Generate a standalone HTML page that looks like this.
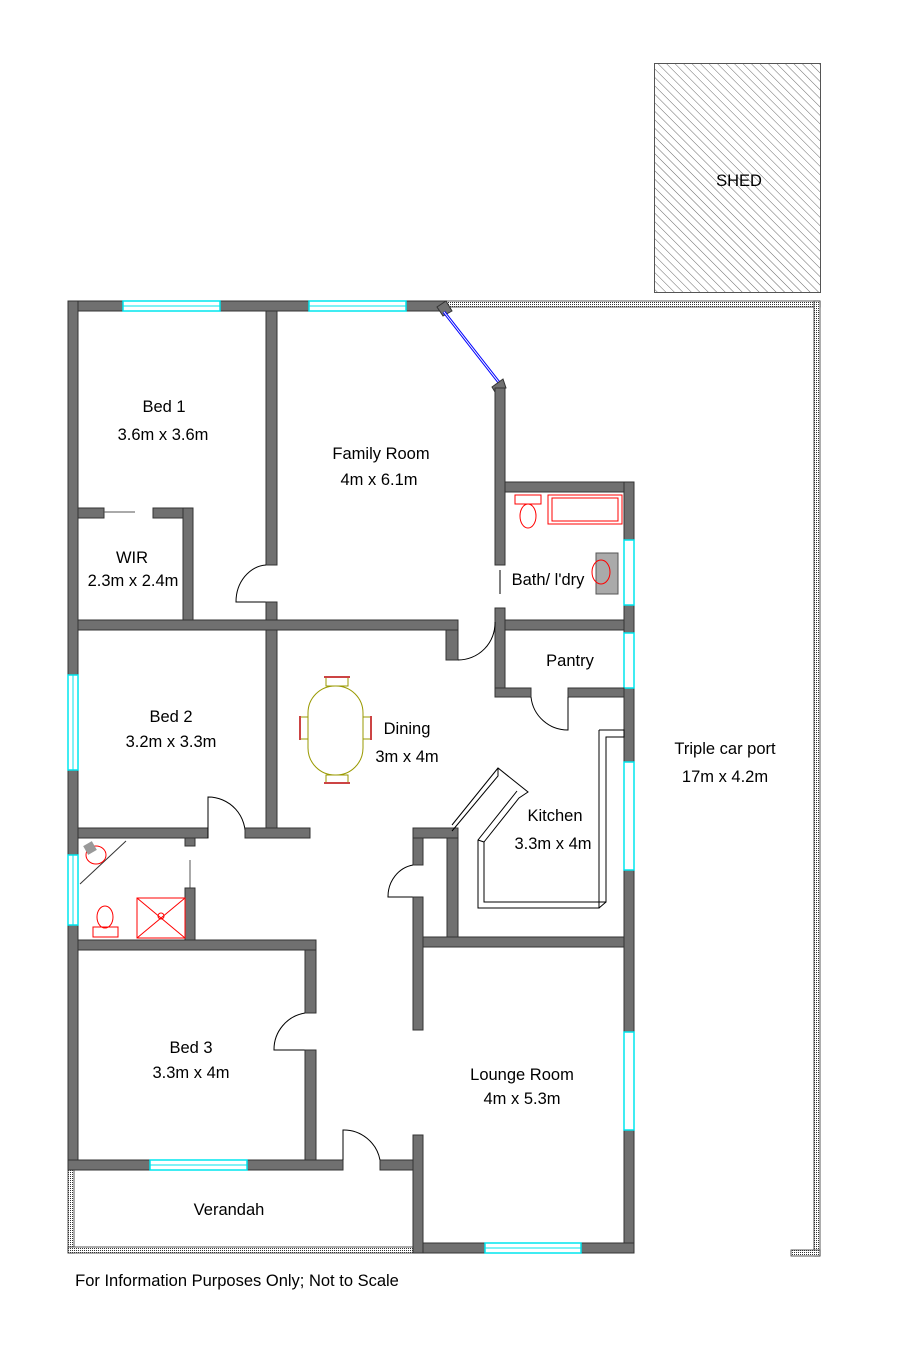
<!DOCTYPE html>
<html><head><meta charset="utf-8"><style>
html,body{margin:0;padding:0;background:#fff}
svg{display:block}
text{font-family:"Liberation Sans",sans-serif;font-size:16.5px;fill:#000;text-anchor:middle}
.w{fill:#707070;stroke:#333;stroke-width:1}
.win{fill:#fff;stroke:#00e5ee;stroke-width:1.5}
.d{fill:none;stroke:#000;stroke-width:1}
.r{fill:none;stroke:#f00;stroke-width:1}
.y{fill:none;stroke:#999900;stroke-width:1}
</style></head><body>
<svg width="899" height="1346" viewBox="0 0 899 1346" xmlns="http://www.w3.org/2000/svg">
<defs>
<pattern id="h" width="6" height="6" patternUnits="userSpaceOnUse" patternTransform="rotate(-45)">
<line x1="0" y1="0" x2="0" y2="6" stroke="#6a6a6a" stroke-width="1"/>
</pattern>
<pattern id="dots" width="2" height="2" patternUnits="userSpaceOnUse">
<rect width="2" height="2" fill="#fff"/><rect width="1" height="1" fill="#333"/>
</pattern>
</defs>
<!-- shed -->
<rect x="654.5" y="63.5" width="166" height="229" fill="url(#h)" stroke="#555"/>
<text x="739" y="186">SHED</text>
<!-- carport outline -->
<rect x="446" y="301" width="374" height="6" fill="url(#dots)" stroke="#333" stroke-width="0.8"/>
<rect x="814" y="301" width="6" height="955" fill="url(#dots)" stroke="#333" stroke-width="0.8"/>
<rect x="791" y="1250" width="29" height="6" fill="url(#dots)" stroke="#333" stroke-width="0.8"/>
<!-- verandah -->
<rect x="68" y="1170" width="6" height="83" fill="url(#dots)" stroke="#333" stroke-width="0.8"/>
<rect x="68" y="1247" width="345" height="6" fill="url(#dots)" stroke="#333" stroke-width="0.8"/>
<!-- outer walls -->
<rect class="w" x="68" y="301" width="378" height="10"/>
<rect class="w" x="68" y="301" width="10" height="869"/>
<rect class="win" x="123" y="301" width="97" height="10"/>
<rect class="win" x="309" y="301" width="97" height="10"/>
<line x1="123" y1="306" x2="220" y2="306" stroke="#00e5ee"/>
<line x1="309" y1="306" x2="406" y2="306" stroke="#00e5ee"/>
<rect class="win" x="68" y="675" width="10" height="95"/>
<rect class="win" x="68" y="855" width="10" height="70"/>
<line x1="73" y1="675" x2="73" y2="770" stroke="#00e5ee"/>
<line x1="73" y1="855" x2="73" y2="925" stroke="#00e5ee"/>
<!-- bay window -->
<polygon class="w" points="437,307 446,301 452,311 443,316"/>
<line x1="444" y1="312" x2="501" y2="385" stroke="#00f" stroke-width="3"/>
<line x1="444" y1="312" x2="501" y2="385" stroke="#fff" stroke-width="1"/>
<polygon class="w" points="492,387 503,379 506,388 495,392"/>
<rect class="w" x="495" y="388" width="10" height="177"/>
<line x1="500" y1="570" x2="500" y2="594" stroke="#000"/>
<!-- bath -->
<rect class="w" x="505" y="482" width="129" height="10"/>
<rect class="w" x="624" y="482" width="10" height="771"/>
<rect class="win" x="624" y="540" width="10" height="65"/>
<rect class="win" x="624" y="633" width="10" height="55"/>
<rect class="win" x="624" y="762" width="10" height="108"/>
<rect class="win" x="624" y="1032" width="10" height="98"/>
<rect class="r" x="515" y="495" width="26" height="9"/>
<ellipse class="r" cx="528" cy="516" rx="8" ry="12"/>
<rect class="r" x="548" y="495" width="74" height="29"/>
<rect class="r" x="552" y="498" width="66" height="23"/>
<rect x="596" y="553" width="22" height="41" fill="#aaa" stroke="#555"/>
<ellipse class="r" cx="601" cy="572" rx="9" ry="12"/>
<text x="548" y="585">Bath/ l'dry</text>
<!-- pantry -->
<rect class="w" x="505" y="620" width="119" height="10"/>
<rect class="w" x="495" y="608" width="10" height="89"/>
<rect class="w" x="495" y="688" width="36" height="9"/>
<rect class="w" x="568" y="688" width="56" height="9"/>
<path class="d" d="M531 697 A37 37 0 0 0 568 730 L568 697"/>
<text x="570" y="666">Pantry</text>
<!-- lounge bottom -->
<rect class="w" x="413" y="1243" width="221" height="10"/>
<rect class="win" x="485" y="1243" width="96" height="10"/>
<line x1="485" y1="1248" x2="581" y2="1248" stroke="#00e5ee"/>
<rect class="w" x="413" y="1135" width="10" height="118"/>
<!-- bed3 bottom -->
<rect class="w" x="68" y="1160" width="275" height="10"/>
<rect class="win" x="150" y="1160" width="97" height="10"/>
<line x1="150" y1="1165" x2="247" y2="1165" stroke="#00e5ee"/>
<rect class="w" x="380" y="1160" width="33" height="10"/>
<path class="d" d="M343 1160 L343 1130 A37 37 0 0 1 380 1160"/>
<!-- interior -->
<rect class="w" x="266" y="311" width="11" height="254"/>
<path class="d" d="M266 565 A32 37 0 0 0 236 602 L266 602"/>
<rect class="w" x="266" y="602" width="11" height="226"/>
<rect class="w" x="78" y="620" width="380" height="10"/>
<rect class="w" x="446" y="630" width="12" height="30"/>
<path class="d" d="M458 660 A37 37 0 0 0 495 622"/>
<!-- WIR -->
<rect class="w" x="78" y="508" width="26" height="10"/>
<line x1="104" y1="512" x2="135" y2="512" stroke="#555"/>
<rect class="w" x="153" y="508" width="40" height="10"/>
<rect class="w" x="183" y="508" width="10" height="112"/>
<text x="132" y="563">WIR</text>
<text x="133" y="586">2.3m x 2.4m</text>
<!-- bed2 -->
<rect class="w" x="78" y="828" width="130" height="10"/>
<path class="d" d="M208 838 L208 797 A37 37 0 0 1 245 838"/>
<rect class="w" x="245" y="828" width="65" height="10"/>
<rect class="w" x="185" y="838" width="10" height="8"/>
<line x1="190" y1="860" x2="190" y2="888" stroke="#555"/>
<rect class="w" x="185" y="888" width="10" height="52"/>
<line x1="80" y1="884" x2="126" y2="841" stroke="#333"/>
<ellipse class="r" cx="96" cy="855" rx="10" ry="9"/>
<rect x="85" y="843" width="10" height="10" fill="#999" transform="rotate(-30 90 848)"/>
<ellipse class="r" cx="105" cy="917" rx="8" ry="11"/>
<rect class="r" x="93" y="927" width="25" height="10"/>
<rect class="r" x="137" y="898" width="48" height="40"/>
<path class="r" d="M137 898 L185 938 M185 898 L137 938"/>
<circle class="r" cx="161" cy="916" r="3"/>
<!-- bed3 -->
<rect class="w" x="78" y="940" width="238" height="10"/>
<rect class="w" x="305" y="950" width="11" height="63"/>
<path class="d" d="M305 1013 A37 37 0 0 0 274 1050 L305 1050"/>
<rect class="w" x="305" y="1050" width="11" height="110"/>
<!-- kitchen -->
<rect class="w" x="413" y="828" width="45" height="10"/>
<rect class="w" x="413" y="838" width="10" height="27"/>
<path class="d" d="M413 865 A30 32 0 0 0 388 897 L413 897"/>
<rect class="w" x="413" y="897" width="10" height="133"/>
<rect class="w" x="447" y="838" width="11" height="99"/>
<rect class="w" x="423" y="937" width="201" height="10"/>
<path class="d" d="M599 730 L624 730 L624 737 L606 737 L606 902 L484 902 L484 842 L519 798 L528 792 L498 768 L452 825 M599 730 L599 908 L478 908 L478 840 L517 791 M606 902 L599 908 M484 842 L478 840 M498 768 L498 776 L452 831"/>
<text x="555" y="821">Kitchen</text>
<text x="553" y="849">3.3m x 4m</text>
<!-- dining table -->
<rect class="y" x="308" y="686" width="55" height="89" rx="27" ry="27"/>
<rect class="y" x="326" y="677" width="22" height="9"/>
<line x1="324" y1="677" x2="350" y2="677" stroke="#c44" stroke-width="2"/>
<rect class="y" x="326" y="775" width="22" height="8"/>
<line x1="324" y1="783" x2="350" y2="783" stroke="#c44" stroke-width="2"/>
<rect class="y" x="300" y="717" width="8" height="22"/>
<line x1="300" y1="716" x2="300" y2="740" stroke="#c44" stroke-width="2"/>
<rect class="y" x="363" y="717" width="8" height="22"/>
<line x1="371" y1="716" x2="371" y2="740" stroke="#c44" stroke-width="2"/>
<!-- labels -->
<text x="164" y="412">Bed 1</text>
<text x="163" y="440">3.6m x 3.6m</text>
<text x="381" y="459">Family Room</text>
<text x="379" y="485">4m x 6.1m</text>
<text x="171" y="722">Bed 2</text>
<text x="171" y="747">3.2m x 3.3m</text>
<text x="407" y="734">Dining</text>
<text x="407" y="762">3m x 4m</text>
<text x="191" y="1053">Bed 3</text>
<text x="191" y="1078">3.3m x 4m</text>
<text x="522" y="1080">Lounge Room</text>
<text x="522" y="1104">4m x 5.3m</text>
<text x="229" y="1215">Verandah</text>
<text x="725" y="754">Triple car port</text>
<text x="725" y="782">17m x 4.2m</text>
<text x="237" y="1286">For Information Purposes Only; Not to Scale</text>
</svg>
</body></html>
